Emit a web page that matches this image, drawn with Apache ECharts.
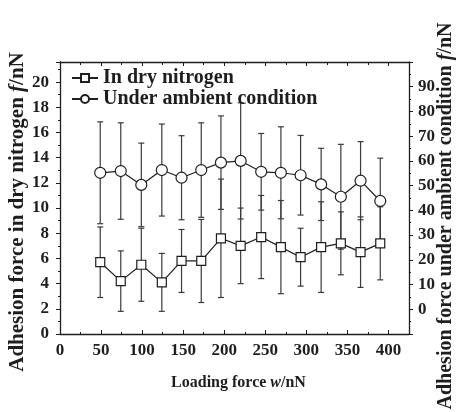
<!DOCTYPE html>
<html><head><meta charset="utf-8">
<script src="https://cdn.jsdelivr.net/npm/echarts@6/dist/echarts.min.js"></script>
<style>html,body{margin:0;padding:0;background:#fff}#c{width:460px;height:412px}</style>
</head><body><div id="c"></div>
<script>
var loads = [49, 74, 99, 124, 148, 172, 196, 220, 245, 269, 293, 318, 342, 366, 390];
var dryValues = [5.7, 4.2, 5.5, 4.1, 5.8, 5.8, 7.6, 7.0, 7.7, 6.9, 6.1, 6.9, 7.2, 6.5, 7.2];
var dryErrors = [2.8, 2.4, 2.9, 2.3, 2.5, 3.3, 4.7, 3.0, 3.3, 3.7, 2.3, 3.6, 2.5, 2.8, 2.9];
var ambValues = [55.2, 55.9, 50.3, 56.3, 53.2, 56.3, 59.3, 60.0, 55.6, 55.2, 54.2, 50.5, 45.5, 52.0, 43.8];
var ambErrors = [20.6, 19.5, 16.9, 18.6, 17.0, 19.1, 18.9, 23.5, 15.5, 18.6, 16.1, 14.6, 21.2, 15.8, 17.3];
var xTicks = [0, 50, 100, 150, 200, 250, 300, 350, 400];
var leftTicks = [0, 2, 4, 6, 8, 10, 12, 14, 16, 18, 20];
var rightTicks = [0, 10, 20, 30, 40, 50, 60, 70, 80, 90];

var FONT = '"Liberation Serif", "DejaVu Serif", serif';
var INK = '#1e1e1e';

function errData(vals, errs) {
  return loads.map(function (x, i) { return [x, vals[i] - errs[i], vals[i] + errs[i]]; });
}
function errSeries(vals, errs, yi) {
  return {
    type: 'custom', yAxisIndex: yi, xAxisIndex: 0, z: 1, silent: true,
    data: errData(vals, errs),
    renderItem: function (params, api) {
      var lo = api.coord([api.value(0), api.value(1)]);
      var hi = api.coord([api.value(0), api.value(2)]);
      var w = 3;
      var st = { stroke: '#3a3a3a', lineWidth: 1.2 };
      return { type: 'group', children: [
        { type: 'line', shape: { x1: lo[0], y1: lo[1], x2: hi[0], y2: hi[1] }, style: st },
        { type: 'line', shape: { x1: lo[0] - w, y1: lo[1], x2: lo[0] + w, y2: lo[1] }, style: st },
        { type: 'line', shape: { x1: hi[0] - w, y1: hi[1], x2: hi[0] + w, y2: hi[1] }, style: st }
      ] };
    }
  };
}

var chart = echarts.init(document.getElementById('c'));
var labelStyle = { fontFamily: FONT, fontWeight: 'bold', fontSize: 17, color: INK };
function nameStyle(sz, pad) {
  return { fontFamily: FONT, fontWeight: 'bold', fontSize: sz, color: INK, padding: pad,
    rich: { i: { fontFamily: FONT, fontWeight: 'bold', fontStyle: 'italic', fontSize: sz, color: INK } } };
}
var axLine = { show: true, onZero: false, lineStyle: { color: INK, width: 1.3 } };

chart.setOption({
  animation: false,
  backgroundColor: '#fff',
  grid: { left: 60, right: 51, top: 62, bottom: 78, show: false, containLabel: false, outerBoundsMode: 'none' },
  legend: {
    orient: 'vertical', left: 66, top: 63, itemGap: 1, itemWidth: 26, itemHeight: 10,
    textStyle: { fontFamily: FONT, fontWeight: 'bold', fontSize: 20, color: INK },
    data: ['In dry nitrogen', 'Under ambient condition']
  },
  xAxis: [{
    type: 'value', min: 0, max: 425, interval: 50, position: 'bottom',
    name: 'Loading force {i|w}/nN', nameLocation: 'middle', nameGap: 41, nameMoveOverlap: false,
    nameTextStyle: nameStyle(16, [0, 0, 0, 8]),
    axisLine: axLine,
    axisTick: { show: true, inside: true, length: 4, lineStyle: { color: INK } },
    minorTick: { show: true, splitNumber: 2, length: 2, lineStyle: { color: INK } },
    splitLine: { show: false },
    axisLabel: Object.assign({ margin: 8, showMaxLabel: false,
      formatter: function (v) { return xTicks.indexOf(v) >= 0 ? String(v) : ''; } }, labelStyle)
  }, {
    type: 'value', min: 0, max: 425, interval: 50, position: 'top',
    axisLine: axLine,
    axisTick: { show: true, inside: true, length: 4, lineStyle: { color: INK } },
    minorTick: { show: true, splitNumber: 2, length: 3, lineStyle: { color: INK } },
    splitLine: { show: false }, axisLabel: { show: false }
  }],
  yAxis: [{
    type: 'value', min: 0, max: 21.6, interval: 2, position: 'left',
    name: 'Adhesion force in dry nitrogen {i|f}/nN', nameLocation: 'middle', nameGap: 32, nameRotate: 90,
    nameMoveOverlap: false,
    nameTextStyle: nameStyle(21, [0, 28, 0, 0]),
    axisLine: axLine,
    axisTick: { show: true, inside: false, length: 4, lineStyle: { color: INK } },
    minorTick: { show: true, splitNumber: 2, length: 2, lineStyle: { color: INK } },
    splitLine: { show: false },
    axisLabel: Object.assign({ margin: 11, showMaxLabel: false,
      formatter: function (v) { return leftTicks.indexOf(v) >= 0 ? String(v) : ''; } }, labelStyle)
  }, {
    type: 'value', min: -10, max: 100, interval: 10, position: 'right',
    name: 'Adhesion force under ambient condition {i|f}/nN', nameLocation: 'middle', nameGap: 27, nameRotate: 90,
    nameMoveOverlap: false,
    nameTextStyle: nameStyle(20, [0, 36, 0, 0]),
    axisLine: axLine,
    axisTick: { show: true, inside: false, length: 4, lineStyle: { color: INK } },
    minorTick: { show: true, splitNumber: 2, length: 2, lineStyle: { color: INK } },
    splitLine: { show: false },
    axisLabel: Object.assign({ margin: 9,
      formatter: function (v) { return rightTicks.indexOf(v) >= 0 ? String(v) : ''; } }, labelStyle)
  }],
  series: [
    errSeries(dryValues, dryErrors, 0),
    errSeries(ambValues, ambErrors, 1),
    {
      name: 'In dry nitrogen', type: 'line', yAxisIndex: 0, z: 3,
      data: loads.map(function (x, i) { return [x, dryValues[i]]; }),
      symbol: 'rect', symbolSize: 9,
      lineStyle: { color: INK, width: 1.2 },
      itemStyle: { color: '#fff', borderColor: INK, borderWidth: 1.2 }
    },
    {
      name: 'Under ambient condition', type: 'line', yAxisIndex: 1, z: 3,
      data: loads.map(function (x, i) { return [x, ambValues[i]]; }),
      symbol: 'circle', symbolSize: 11,
      lineStyle: { color: INK, width: 1.2 },
      itemStyle: { color: '#fff', borderColor: INK, borderWidth: 1.2 }
    }
  ]
});
</script></body></html>
